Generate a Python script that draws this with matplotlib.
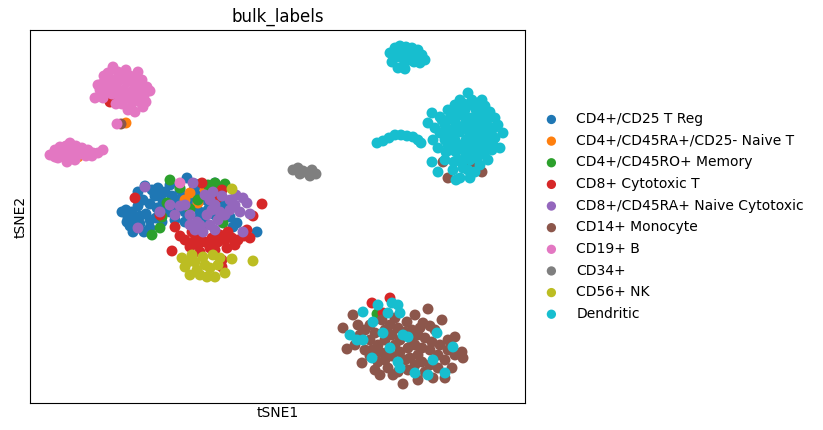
import matplotlib
matplotlib.use("Agg")
import matplotlib.pyplot as plt

# category names, in legend order
categories = [
    "CD4+/CD25 T Reg",
    "CD4+/CD45RA+/CD25- Naive T",
    "CD4+/CD45RO+ Memory",
    "CD8+ Cytotoxic T",
    "CD8+/CD45RA+ Naive Cytotoxic",
    "CD14+ Monocyte",
    "CD19+ B",
    "CD34+",
    "CD56+ NK",
    "Dendritic",
]
colors = ["#1f77b4", "#ff7f0e", "#2ca02c", "#d62728", "#9467bd",
          "#8c564b", "#e377c2", "#7f7f7f", "#bcbd22", "#17becf"]

# embedding coordinates (tSNE2 axis runs downwards here)
treg = [(145,186),(152,190),(158,188),(165,192),(172,196),(178,200),(187,178),(194,190),
        (200,196),(206,200),(212,196),(215,183),(220,192),(225,203),(208,210),(200,212),
        (192,206),(185,212),(178,208),(170,212),(163,202),(157,208),(150,204),(143,200),
        (138,206),(132,212),(126,210),(128,218),(134,220),(140,216),(146,214),(150,220),
        (156,218),(162,222),(150,228),(135,228),(140,224),(144,232),(130,226),(170,185),
        (180,190),(190,198),(175,220),(185,222),(205,224),(198,218),(230,217),(233,227),
        (237,223),(257,232),(215,215),(160,196),(166,206),(138,192),(155,196),(183,196),
        (195,184),(203,186),(210,205),(220,210),(122,212),(127,222),(133,232)]
naive_t = [(190,193),(198,203),(205,190),(185,200),(214,186),
           (78,157),(86,155),(126,123)]
memory = [(170,180),(215,183),(225,184),(218,191),(167,203),(152,235),(160,228),(162,217),
          (223,223),(208,185),(180,188),(198,200),(190,209),(212,190),(377,314)]
cytotoxic = [(135,198),(262,204),(253,216),(172,251),(180,236),(175,227),(192,232),(210,248),
             (227,248),(250,238),(190,247),(222,260),(222,267),(200,237),(205,242),(212,238),
             (218,242),(225,240),(232,238),(238,240),(244,236),(198,245),(195,240),(215,250),
             (208,243),(200,252),(220,235),(235,245),(202,183),(222,190),(217,198),(160,215),
             (247,230),(185,240),(228,232),
             (110,102),(115,100),(121,99),
             (372,303),(390,298),(383,313)]
naive_cyto = [(145,187),(193,183),(212,210),(197,222),(218,220),(243,198),(247,203),(243,232),
              (138,228),(205,195),(210,200),(215,205),(220,212),(225,215),(207,215),(200,225),
              (210,225),(215,230),(203,232),(195,230),(230,200),(235,205),(240,212),(230,210),
              (190,215),(185,205),(175,215),(160,212),(170,205),(250,214),(236,195),(222,196),
              (213,192),(190,225),(180,206)]
monocyte = [(343,328),(353,315),(347,349),(362,363),(375,370),(393,375),(403,384),(418,380),
            (445,378),(428,309),(442,320),(455,337),(462,352),(463,358),(407,322),(423,323),
            (430,326),(358,325),(365,330),(370,340),(378,345),(385,340),(392,335),(398,328),
            (405,332),(412,330),(418,335),(425,338),(432,342),(440,345),(448,350),(455,355),
            (445,360),(438,355),(430,350),(422,348),(415,345),(408,348),(400,352),(392,356),
            (385,360),(378,362),(388,368),(398,372),(408,370),(415,365),(422,362),(430,365),
            (438,368),(425,372),(410,358),(418,355),(405,360),(395,345),(388,352),(380,352),
            (372,350),(365,350),(360,335),(370,325),(382,320),(390,325),(415,315),(435,330),
            (448,340),(452,368),(370,356),(355,345),(412,340),(420,328),(400,340),(385,330),
            (380,375),(433,378),(395,318),(375,333),
            (443,162),(448,178),(472,166),(482,172),(121,124)]
b_cells = [(113,67),(108,73),(118,72),(124,74),(130,76),(136,78),(142,80),(147,87),(140,88),
           (134,84),(127,82),(120,80),(114,80),(107,80),(102,84),(110,86),(117,88),(124,90),
           (131,92),(138,94),(144,96),(146,102),(140,102),(133,100),(126,98),(119,96),(112,94),
           (105,92),(100,90),(95,98),(103,98),(131,107),(143,107),(135,112),(128,110),(122,104),
           (116,104),(138,72),(126,70),(104,76),(150,91),(98,85),
           (117,124),
           (50,155),(55,150),(60,147),(66,146),(70,143),(76,146),(82,148),(88,150),(93,153),
           (98,153),(103,150),(64,154),(72,152),(80,154),(86,156),(58,158),(67,162),(75,160),
           (62,150),(55,157),(92,156),(70,157),
           (180,183)]
cd34 = [(293,170),(298,168),(303,171),(308,173),(312,170),(316,174),(300,174),(310,176)]
nk = [(232,189),(182,258),(185,267),(190,275),(207,277),(215,277),(225,273),(232,259),
      (253,261),(203,257),(213,255),(197,270),(188,262),(195,262),(205,265),(210,268),
      (218,265),(200,275),(220,258),(192,255)]
dendritic = [(390,53),(395,48),(400,46),(406,47),(412,48),(418,50),(422,55),(425,60),(420,63),
             (414,62),(408,60),(402,58),(396,57),(400,52),(410,54),(404,66),(398,68),(392,62),
             (416,57),(405,69),
             (377,143),(383,141),(389,138),(395,135),(401,135),(407,136),(413,137),(418,140),
             (421,143),
             (468,93),(460,100),(472,100),(478,103),(485,106),(490,112),(495,118),(498,125),
             (455,105),(448,110),(440,117),(432,113),(428,123),(435,128),(440,133),(433,140),
             (438,148),(432,162),(438,172),(445,160),(450,150),(445,140),(450,130),(455,122),
             (460,115),(465,110),(470,118),(475,123),(480,118),(485,125),(490,132),(495,138),
             (503,133),(500,148),(493,145),(487,150),(480,155),(488,160),(480,165),(475,172),
             (470,178),(463,168),(458,160),(453,170),(460,178),(455,140),(460,132),(465,128),
             (470,135),(475,142),(480,140),(470,150),(465,158),(462,145),(450,118),(445,125),
             (456,180),
             (458,108),(464,104),(476,110),(482,112),(488,118),(472,126),(478,130),(484,134),
             (490,138),(458,126),(466,120),(452,136),(458,146),(466,140),(474,148),(482,146),
             (488,126),(476,136),(468,142),(456,152),(448,145),(444,132),(464,150),(470,160),
             (476,158),(484,152),(494,128),(462,162),(468,170),(454,162),(442,120),(452,112),
             (486,142),(478,118),(492,150),(446,152),(474,106),(482,100),
             (378,305),(392,303),(398,305),(363,312),(388,313),(400,313),(373,322),(350,335),
             (357,340),(363,340),(372,358),(383,333),(403,335),(408,337),(398,362),(400,368),
             (415,373),(428,375),(445,373),(453,347),(437,333),(433,360),(390,348)]

groups = [treg, naive_t, memory, cytotoxic, naive_cyto, monocyte, b_cells, cd34, nk, dendritic]

fig = plt.figure(figsize=(8.23, 4.30), dpi=100)
ax = fig.add_axes([30/823, 27/430, 495/823, 373/430])

for name, col, pts in zip(categories, colors, groups):
    xs = [p[0] for p in pts]
    ys = [p[1] for p in pts]
    ax.scatter(xs, ys, s=62, c=col, edgecolors="none", label=name)

ax.set_xlim(30, 525)
ax.set_ylim(403, 30)
ax.set_xticks([])
ax.set_yticks([])
ax.set_xlabel("tSNE1", labelpad=2)
ax.set_ylabel("tSNE2", labelpad=2)
ax.set_title("bulk_labels", fontsize=12)

ax.legend(loc="center left", bbox_to_anchor=(1, 0.5), frameon=False,
          fontsize=10, markerscale=0.85, handletextpad=0.8, labelspacing=0.55)

fig.savefig("out.png", dpi=100)
